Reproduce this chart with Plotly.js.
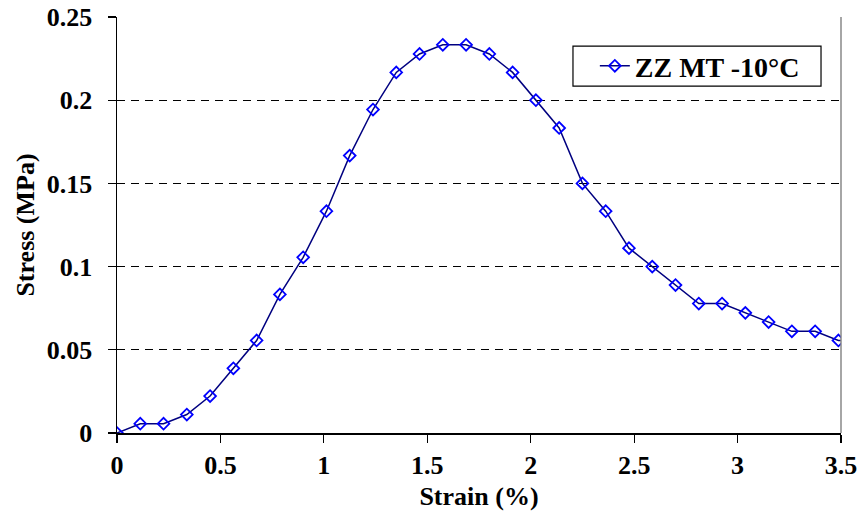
<!DOCTYPE html>
<html>
<head>
<meta charset="utf-8">
<script src="https://cdn.plot.ly/plotly-3.0.1.min.js"></script>
<style>html,body{margin:0;padding:0;background:#fff;}#chart{width:862px;height:523px;}</style>
</head>
<body>
<div id="chart"></div>
<script>
const strain = [0, 0.1125, 0.225, 0.3375, 0.45, 0.5625, 0.675, 0.7875, 0.9, 1.0125,
  1.125, 1.2375, 1.35, 1.4625, 1.575, 1.6875, 1.8, 1.9125, 2.025, 2.1375,
  2.25, 2.3625, 2.475, 2.5875, 2.7, 2.8125, 2.925, 3.0375, 3.15, 3.2625,
  3.375, 3.4875, 3.6];
const stress = [0, 0.0056, 0.0056, 0.0111, 0.0222, 0.0389, 0.0556, 0.0833, 0.1056, 0.1333,
  0.1667, 0.1944, 0.2167, 0.2278, 0.2333, 0.2333, 0.2278, 0.2167, 0.2, 0.1833,
  0.15, 0.1333, 0.1111, 0.1, 0.0889, 0.0778, 0.0778, 0.0722, 0.0667, 0.0611,
  0.0611, 0.0556, 0.0556];
const seriesName = '<b>ZZ MT -10°C</b>';
const xTitle = '<b>Strain (%)</b>';
const yTitle = '<b>Stress (MPa)</b>';
const yTicks = [0, 0.05, 0.1, 0.15, 0.2, 0.25];
const yTickText = ['<b>0</b>', '<b>0.05</b>', '<b>0.1</b>', '<b>0.15</b>', '<b>0.2</b>', '<b>0.25</b>'];
const xTicks = [0, 0.5, 1, 1.5, 2, 2.5, 3, 3.5];
const xTickText = ['<b>0</b>', '<b>0.5</b>', '<b>1</b>', '<b>1.5</b>', '<b>2</b>', '<b>2.5</b>', '<b>3</b>', '<b>3.5</b>'];

const font = 'Liberation Serif';

const trace = {
  x: strain, y: stress, name: seriesName, type: 'scatter', mode: 'lines+markers',
  line: {color: '#000080', width: 1.5},
  marker: {symbol: 'diamond-open', color: '#0000FF', size: 9, line: {width: 1.8, color: '#0000FF'}},
  cliponaxis: true
};
const dummy2 = {x: [0], y: [0], yaxis: 'y2', xaxis: 'x', showlegend: false, mode: 'none', hoverinfo: 'skip'};
const dummy3 = {x: [0], y: [0], yaxis: 'y3', xaxis: 'x', showlegend: false, mode: 'none', hoverinfo: 'skip'};

const layout = {
  width: 862, height: 523,
  margin: {l: 117, r: 21, t: 17, b: 90},
  paper_bgcolor: '#fff', plot_bgcolor: '#fff',
  font: {family: font, color: '#000', size: 26},
  showlegend: true,
  legend: {
    x: 0.660, y: 0.882, xanchor: 'left', yanchor: 'middle',
    bgcolor: 'rgba(0,0,0,0)', borderwidth: 0,
    itemwidth: 30,
    font: {family: font, size: 28, color: '#000'}
  },
  xaxis: {
    range: [0, 3.5], tickvals: xTicks, ticktext: xTickText,
    ticks: 'outside', ticklen: 8, tickwidth: 1.2, tickcolor: '#000',
    showline: true, linecolor: '#000', linewidth: 1.5,
    showgrid: false, zeroline: false,
    tickfont: {family: font, size: 26, color: '#000'},
    title: {text: xTitle, font: {family: font, size: 26, color: '#000'}, standoff: 8}
  },
  yaxis: {
    range: [0, 0.25], tickvals: yTicks, ticktext: yTickText,
    ticks: 'outside', ticklen: 18, tickwidth: 1.2, tickcolor: 'rgba(0,0,0,0)',
    showline: true, linecolor: '#000', linewidth: 1.5,
    showgrid: true, gridcolor: '#000', griddash: '8px,6px', gridwidth: 1,
    zeroline: false,
    tickfont: {family: font, size: 26, color: '#000'},
    title: {text: yTitle, font: {family: font, size: 26, color: '#000'}, standoff: 4}
  },
  yaxis2: {
    overlaying: 'y', range: [0, 0.25], tickvals: yTicks, showticklabels: false,
    ticks: 'inside', ticklen: 8, tickwidth: 1.2, tickcolor: '#000',
    showgrid: false, zeroline: false, showline: false
  },
  yaxis3: {
    overlaying: 'y', range: [0, 0.25], tickvals: yTicks, showticklabels: false,
    ticks: 'outside', ticklen: 8, tickwidth: 1.2, tickcolor: '#000',
    showgrid: false, zeroline: false, showline: false
  },
  shapes: [
    {type: 'line', xref: 'paper', yref: 'paper', x0: 1, x1: 1, y0: 0, y1: 1, line: {color: '#888', width: 1.5}},
    {type: 'rect', xref: 'paper', yref: 'paper', x0: 0.6298, x1: 0.9724, y0: 0.834, y1: 0.930,
     fillcolor: '#fff', line: {color: '#000', width: 1.2}, layer: 'below'}
  ]
};
Plotly.newPlot('chart', [trace, dummy2, dummy3], layout, {displayModeBar: false, staticPlot: true});
</script>
</body>
</html>
